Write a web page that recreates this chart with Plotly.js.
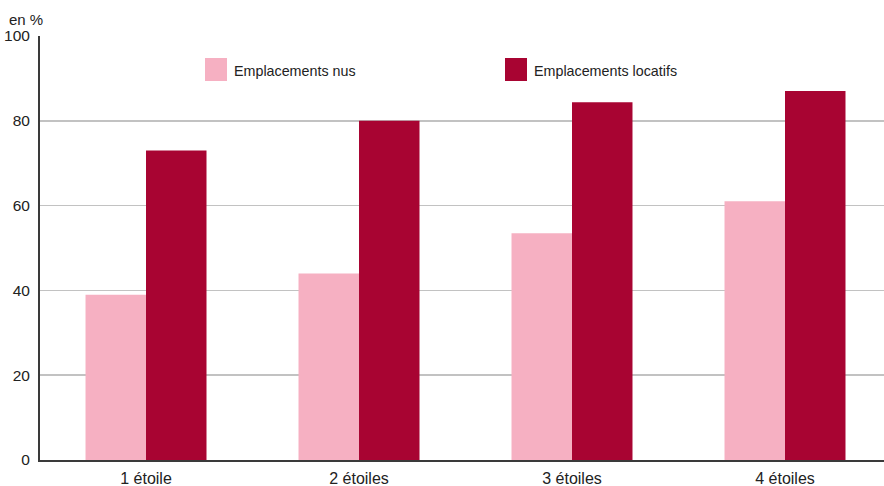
<!DOCTYPE html>
<html>
<head>
<meta charset="utf-8">
<script src="https://cdn.plot.ly/plotly-3.0.1.min.js"></script>
<style>html,body{margin:0;padding:0;background:#fff;}#chart{width:884px;height:486px;}</style>
</head>
<body>
<div id="chart"></div>
<script>
const categories = ["1 étoile", "2 étoiles", "3 étoiles", "4 étoiles"];
const seriesNames = ["Emplacements nus", "Emplacements locatifs"];
const nus = [39, 44, 53.5, 61];
const locatifs = [73, 80, 84.4, 87];
const yTicks = [0, 20, 40, 60, 80, 100];
const unitLabel = "en %";

const colors = ["#F6B0C2", "#A80432"];
const W = 884, H = 486;
const mL = 40, mR = 0, mT = 36, mB = 26;
const pw = W - mL - mR, ph = H - mT - mB;
const px = x => (x - mL) / pw;
const py = y => (H - mB - y) / ph;

const traces = [nus, locatifs].map((vals, i) => ({
  type: 'bar',
  x: categories.map((c, k) => k),
  y: vals,
  name: seriesNames[i],
  marker: {color: colors[i], line: {width: 0}},
  hoverinfo: 'skip'
}));

const legendPos = [{sq: 205, tx: 232}, {sq: 505, tx: 532}];
const shapes = seriesNames.map((n, i) => ({
  type: 'rect', xref: 'paper', yref: 'paper',
  x0: px(legendPos[i].sq), x1: px(legendPos[i].sq + 22),
  y0: py(81), y1: py(58),
  fillcolor: colors[i], line: {width: 0}
}));
const legendFont = {family: "'Liberation Sans', Arial, sans-serif", size: 14.3, color: '#222'};
const annotations = seriesNames.map((n, i) => ({
  xref: 'paper', yref: 'paper', x: px(legendPos[i].tx), y: py(71),
  xanchor: 'left', yanchor: 'middle', text: n, showarrow: false,
  font: legendFont
}));
annotations.push({
  xref: 'paper', yref: 'paper', x: px(7), y: py(19.5),
  xanchor: 'left', yanchor: 'middle', text: unitLabel, showarrow: false,
  font: {family: "'Liberation Sans', Arial, sans-serif", size: 15, color: '#222'}
});

const layout = {
  width: W, height: H,
  margin: {l: mL, r: mR, t: mT, b: mB, pad: 0},
  paper_bgcolor: '#fff', plot_bgcolor: '#fff',
  barmode: 'group', bargap: 0.432, bargroupgap: 0,
  showlegend: false,
  font: {family: "'Liberation Sans', Arial, sans-serif", size: 16, color: '#222'},
  xaxis: {
    range: [-0.4977, 3.4648], tickmode: 'array',
    tickvals: categories.map((c, k) => k), ticktext: categories,
    showgrid: false, zeroline: false,
    showline: true, linecolor: '#3a3a3a', linewidth: 2,
    ticks: 'outside', ticklen: 3, tickcolor: 'rgba(0,0,0,0)',
    tickfont: {size: 16, color: '#222'}, fixedrange: true
  },
  yaxis: {
    range: [0, 100], tickmode: 'array', tickvals: yTicks,
    showgrid: true, gridcolor: '#C2C2C2', gridwidth: 1.5,
    zeroline: false,
    showline: true, linecolor: '#3a3a3a', linewidth: 2,
    ticks: 'outside', ticklen: 5, tickcolor: 'rgba(0,0,0,0)',
    tickfont: {size: 15.5, color: '#222'}, fixedrange: true
  },
  shapes: shapes,
  annotations: annotations
};

Plotly.newPlot('chart', traces, layout, {displayModeBar: false, staticPlot: true});
</script>
</body>
</html>
